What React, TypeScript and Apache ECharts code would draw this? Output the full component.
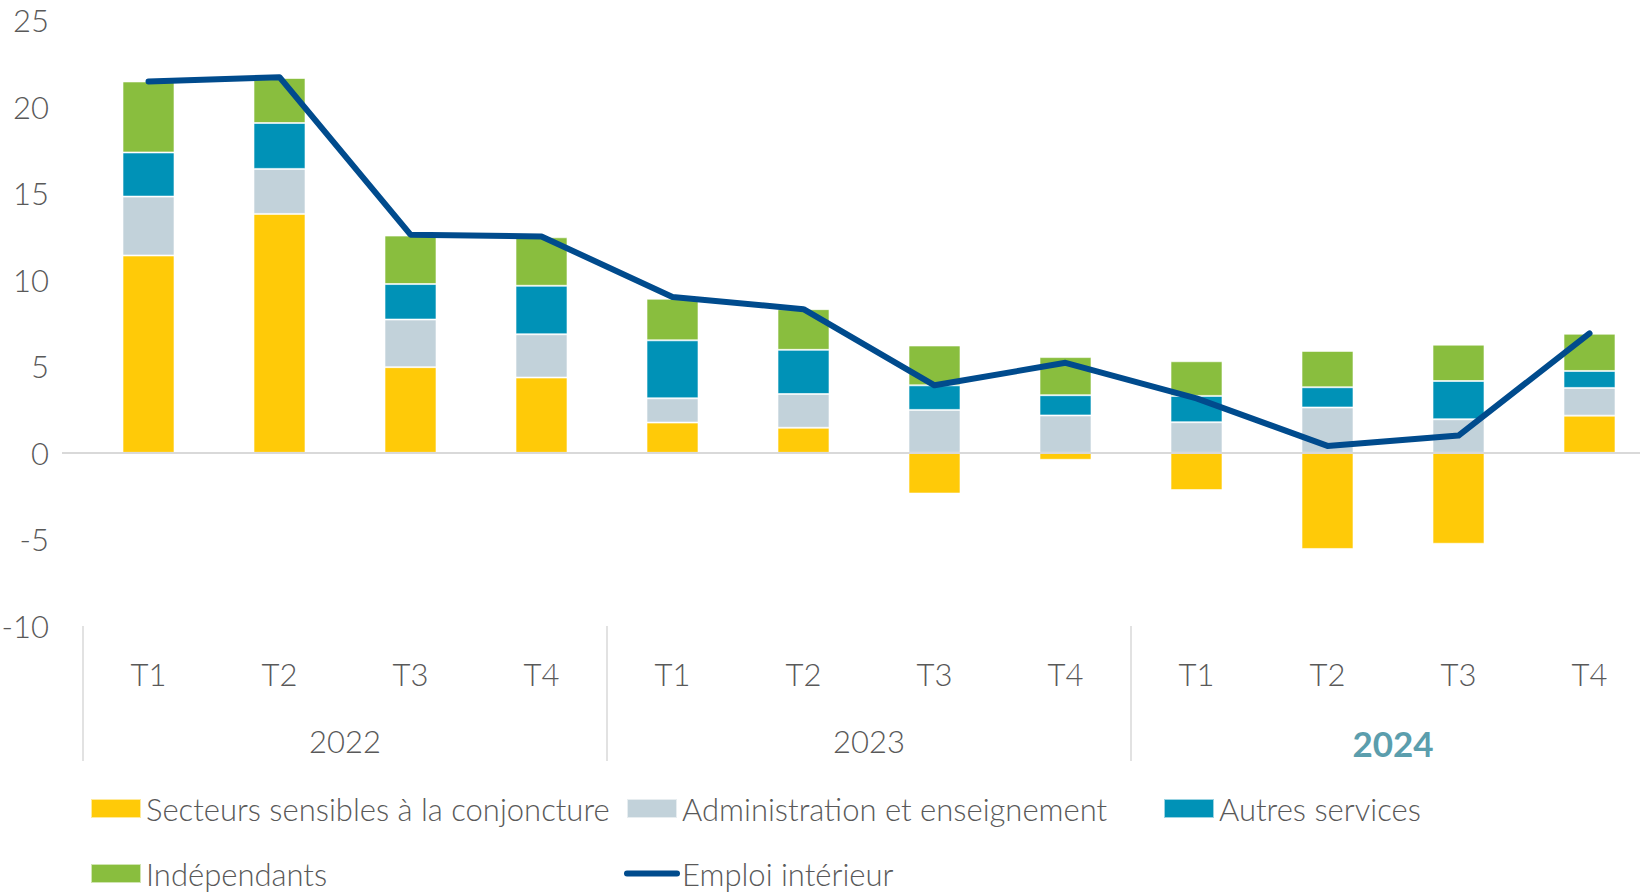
import React, { useEffect, useRef } from "react";
import * as echarts from "echarts";

const categories = ["T1", "T2", "T3", "T4", "T1", "T2", "T3", "T4", "T1", "T2", "T3", "T4"];
const years = ["2022", "2023", "2024"];
const yTicks = { min: -10, max: 25, step: 5 };

const secteurs = [11.4, 13.8, 4.95, 4.35, 1.75, 1.45, -2.35, -0.4, -2.15, -5.55, -5.25, 2.15];
const administration = [3.4, 2.6, 2.75, 2.5, 1.4, 1.95, 2.48, 2.16, 1.77, 2.62, 1.94, 1.6];
const autres = [2.55, 2.65, 2.05, 2.8, 3.35, 2.55, 1.42, 1.17, 1.52, 1.17, 2.21, 0.98];
const independants = [4.1, 2.6, 2.8, 2.8, 2.4, 2.35, 2.3, 2.2, 2.0, 2.1, 2.1, 2.15];
const emploi = [21.45, 21.7, 12.6, 12.5, 9.0, 8.3, 3.9, 5.2, 3.15, 0.4, 1.0, 6.9];

const names = {
  secteurs: "Secteurs sensibles à la conjoncture",
  admin: "Administration et enseignement",
  autres: "Autres services",
  indep: "Indépendants",
  emploi: "Emploi intérieur",
};

const FONT = "Lato, 'Open Sans', sans-serif";
const TXT = "#595959";

export default function App() {
  const ref = useRef<HTMLDivElement>(null);
  useEffect(() => {
    if (!ref.current) return;
    const chart = echarts.init(ref.current, undefined, { renderer: "svg" });
    const barCommon = {
      type: "bar",
      stack: "total",
      barWidth: 52,
      xAxisIndex: 0,
      yAxisIndex: 0,
    };
    const borderStyle = { borderColor: "rgba(255,255,255,0.6)", borderWidth: 1 };
    const textStyle = { fontFamily: FONT, fontWeight: 300, fontSize: 31, color: TXT };
    const legendCommon = {
      top: 793,
      orient: "vertical",
      itemWidth: 50,
      itemHeight: 19,
      itemGap: 34,
      padding: 0,
      textStyle: { ...textStyle, lineHeight: 30 },
    };
    chart.setOption({
      animation: false,
      grid: {
        left: 83,
        width: 1572,
        top: 20,
        bottom: 266,
        containLabel: false,
        outerBoundsMode: "none",
      },
      xAxis: [
        {
          type: "category",
          data: categories,
          position: "bottom",
          axisLine: { show: false },
          axisTick: { show: false },
          axisLabel: { ...textStyle, margin: 32, interval: 0 },
        },
        {
          type: "category",
          data: years.map((y, i) =>
            i === years.length - 1
              ? { value: y, textStyle: { fontWeight: "bold", color: "#5B9EAD", fontSize: 35 } }
              : y
          ),
          position: "bottom",
          axisLine: { show: false },
          axisTick: { show: true, length: 135, lineStyle: { color: "#d9d9d9", width: 1.5 } },
          axisLabel: { ...textStyle, margin: 99, interval: 0 },
        },
      ],
      yAxis: {
        type: "value",
        min: yTicks.min,
        max: yTicks.max,
        interval: yTicks.step,
        splitLine: { show: false },
        axisLine: { show: false },
        axisTick: { show: false },
        axisLabel: { ...textStyle, margin: 34 },
      },
      legend: [
        {
          ...legendCommon,
          left: 90,
          data: [
            { name: names.secteurs, icon: "rect" },
            { name: names.indep, icon: "rect" },
          ],
        },
        {
          ...legendCommon,
          left: 624,
          data: [
            { name: names.admin, icon: "rect" },
            {
              name: names.emploi,
              itemStyle: { color: "rgba(0,0,0,0)", borderWidth: 0, opacity: 0 },
              lineStyle: { width: 6, cap: "round", color: "#004B8D" },
            },
          ],
        },
        {
          ...legendCommon,
          left: 1163,
          data: [{ name: names.autres, icon: "rect" }],
        },
      ],
      series: [
        {
          ...barCommon,
          name: names.secteurs,
          data: secteurs,
          itemStyle: { color: "#FFCA08", ...borderStyle },
        },
        { ...barCommon, name: names.admin, data: administration, itemStyle: { color: "#C2D2DA", ...borderStyle } },
        { ...barCommon, name: names.autres, data: autres, itemStyle: { color: "#0092B7", ...borderStyle } },
        { ...barCommon, name: names.indep, data: independants, itemStyle: { color: "#89BE3E", ...borderStyle } },
        {
          type: "line",
          name: names.emploi,
          data: emploi,
          symbol: "none",
          z: 10,
          lineStyle: { color: "#004B8D", width: 6, cap: "round", join: "round" },
          itemStyle: { color: "#004B8D" },
        },
      ],
    });
    const y0 = chart.convertToPixel({ yAxisIndex: 0 }, 0) as number;
    chart.setOption({
      series: [
        {
          name: names.secteurs,
          markLine: {
            silent: true,
            symbol: "none",
            label: { show: false },
            lineStyle: { color: "#d9d9d9", width: 2, type: "solid" },
            data: [[{ x: 62, y: y0 }, { x: 1640, y: y0 }]],
          },
        },
      ],
    });
    return () => chart.dispose();
  }, []);
  return (
    <div
      ref={ref}
      style={{ position: "absolute", left: 0, top: 0, width: 1640, height: 892 }}
    />
  );
}
